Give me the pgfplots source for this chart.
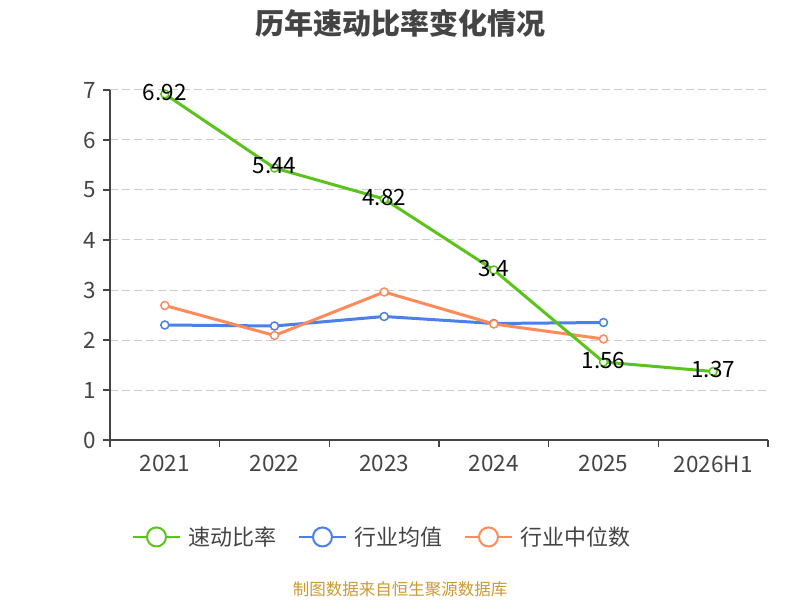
\documentclass[border=0pt]{standalone}
\usepackage{pgfplots}
\pgfplotsset{compat=1.18}
\usepackage{fontspec}
\setmainfont{Noto Sans CJK SC}
\definecolor{cgreen}{RGB}{91,196,28}
\definecolor{cblue}{RGB}{74,128,232}
\definecolor{corange}{RGB}{255,138,90}
\definecolor{ctext}{RGB}{68,68,68}
\definecolor{csrc}{RGB}{204,153,51}
\begin{document}
\begin{tikzpicture}
\path[use as bounding box] (0,0) rectangle (800pt,600pt);
\node[font=\fontsize{29}{34}\selectfont\bfseries, text=ctext] at (400pt,577pt) {历年速动比率变化情况};
\node[font=\fontsize{16.5}{20}\selectfont, text=csrc] at (400pt,11pt) {制图数据来自恒生聚源数据库};
\begin{axis}[
  at={(110pt,160pt)}, anchor=south west,
  scale only axis, width=658pt, height=350pt,
  xmin=-0.5, xmax=5.5, ymin=0, ymax=7,
  axis x line*=bottom, axis y line*=left,
  axis line style={draw=ctext, line width=1.2pt},
  xtick={0,...,5},
  xticklabels={2021,2022,2023,2024,2025,2026H1},
  minor xtick={-0.5,0.5,1.5,2.5,3.5,4.5,5.5},
  ytick={0,...,7},
  tick align=outside,
  major tick length=7pt, minor tick length=7pt,
  x tick style={draw=none},
  minor x tick style={draw=ctext, line width=1.2pt},
  y tick style={draw=ctext, line width=1.2pt},
  ymajorgrids,
  major grid style={draw=gray!40, dash pattern=on 8pt off 4pt, line width=1pt},
  ticklabel style={font=\fontsize{22.5}{26}\selectfont, text=ctext},
  xticklabel style={yshift=-5pt},
  yticklabel style={xshift=-3pt},
  /pgf/number format/assume math mode=true,
  legend style={at={(axis description cs:0.4126,-0.277)}, anchor=center, draw=none, fill=none,
    legend columns=3, font=\fontsize{22}{26}\selectfont, text=ctext,
    nodes={inner sep=0pt},
    /tikz/every odd column/.append style={column sep=8pt},
    /tikz/every even column/.append style={column sep=21pt}},
  legend image code/.code={
    \draw[#1, line width=2pt] (0pt,0pt) -- (47pt,0pt);
    \draw[#1, fill=white, line width=2pt] (23.5pt,0pt) circle (9.5pt);
  },
  clip=false,
]
\addlegendimage{cgreen}
\addlegendentry{速动比率}
\addlegendimage{cblue}
\addlegendentry{行业均值}
\addlegendimage{corange}
\addlegendentry{行业中位数}

\addplot[forget plot, cblue, line width=3pt, mark=*, mark size=4pt, mark options={fill=white, line width=1.5pt}]
coordinates {(0,2.30) (1,2.28) (2,2.47) (3,2.33) (4,2.35)};
\addplot[forget plot, corange, line width=3pt, mark=*, mark size=4pt, mark options={fill=white, line width=1.5pt}]
coordinates {(0,2.69) (1,2.09) (2,2.96) (3,2.32) (4,2.02)};
\addplot[forget plot, cgreen, line width=3pt, mark=*, mark size=4pt, mark options={fill=white, line width=1.5pt},
  nodes near coords, point meta=explicit symbolic,
  every node near coord/.append style={anchor=center, yshift=2pt, text=black, font=\fontsize{22.5}{26}\selectfont}]
coordinates {(0,6.92)[6.92] (1,5.44)[5.44] (2,4.82)[4.82] (3,3.4)[3.4] (4,1.56)[1.56] (5,1.37)[1.37]};
\end{axis}
\end{tikzpicture}
\end{document}
